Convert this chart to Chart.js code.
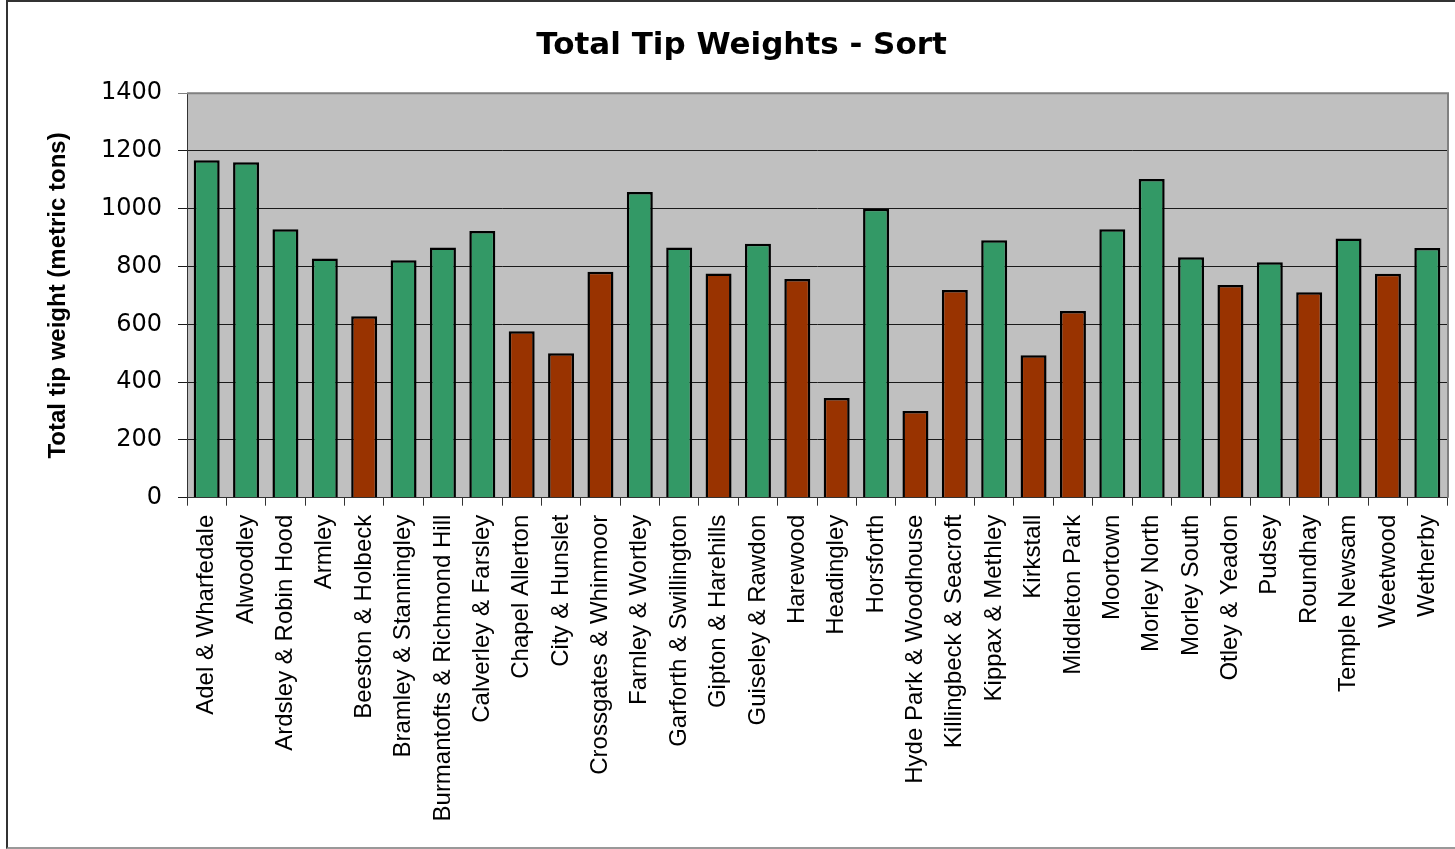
<!DOCTYPE html>
<html>
<head>
<meta charset="utf-8">
<script src="https://cdn.jsdelivr.net/npm/chart.js@4.4.1/dist/chart.umd.min.js"></script>
<style>
  html, body { margin: 0; padding: 0; background: #fff; overflow: hidden; width: 1455px; height: 849px; }
  #frame { position: absolute; left: 6px; top: 0; width: 1490px; height: 849px; box-sizing: border-box;
           border: 2px solid #333; border-bottom-color: #999; }
  #wrap { position: absolute; left: 8px; top: 2px; width: 1460px; height: 844px; }
</style>
</head>
<body>
<div id="frame"></div>
<div id="wrap"><canvas id="tipChart"></canvas></div>
<script>
  const wards = [
    'Adel & Wharfedale', 'Alwoodley', 'Ardsley & Robin Hood', 'Armley',
    'Beeston & Holbeck', 'Bramley & Stanningley', 'Burmantofts & Richmond Hill',
    'Calverley & Farsley', 'Chapel Allerton', 'City & Hunslet', 'Crossgates & Whinmoor',
    'Farnley & Wortley', 'Garforth & Swillington', 'Gipton & Harehills',
    'Guiseley & Rawdon', 'Harewood', 'Headingley', 'Horsforth', 'Hyde Park & Woodhouse',
    'Killingbeck & Seacroft', 'Kippax & Methley', 'Kirkstall', 'Middleton Park',
    'Moortown', 'Morley North', 'Morley South', 'Otley & Yeadon', 'Pudsey',
    'Roundhay', 'Temple Newsam', 'Weetwood', 'Wetherby'
  ];
  const tipWeights = [
    1168, 1161, 929, 828,
    628, 822, 866,
    923, 576, 500, 782,
    1058, 866, 776,
    879, 757, 345, 1000, 300,
    719, 891, 493, 646,
    929, 1103, 832, 736, 815,
    711, 897, 775, 864
  ];
  const yTicks = [0, 200, 400, 600, 800, 1000, 1200, 1400];
  const threshold = 800;

  // grey plot background + grey top/right edge
  const plotBox = {
    id: 'plotBox',
    beforeDraw(chart) {
      const {ctx, chartArea: a} = chart;
      ctx.save();
      ctx.fillStyle = '#C0C0C0';
      ctx.fillRect(a.left, a.top, a.right - a.left, a.bottom - a.top);
      ctx.restore();
    },
    afterDatasetsDraw(chart) {
      const {ctx, chartArea: a} = chart;
      ctx.save();
      ctx.strokeStyle = '#808080';
      ctx.lineWidth = 2;
      ctx.beginPath();
      ctx.moveTo(a.left, a.top);
      ctx.lineTo(a.right + 1, a.top);
      ctx.lineTo(a.right + 1, a.bottom);
      ctx.stroke();
      ctx.restore();
    }
  };

  const ctx = document.getElementById('tipChart').getContext('2d');
  new Chart(ctx, {
    type: 'bar',
    data: {
      labels: wards,
      datasets: [{
        data: tipWeights,
        backgroundColor: c => (c.raw < threshold ? '#993300' : '#339966'),
        borderColor: '#000',
        borderWidth: 2.5,
        barPercentage: 0.66,
        categoryPercentage: 1.0
      }]
    },
    options: {
      responsive: true,
      maintainAspectRatio: false,
      animation: false,
      layout: { padding: { left: 28, right: 21, top: 0, bottom: 0 } },
      scales: {
        x: {
          afterFit: s => { s.height = 348.3; },
          grid: { drawOnChartArea: false, tickLength: 8, color: '#333', lineWidth: 1 },
          border: { color: '#333', width: 1 },
          ticks: {
            autoSkip: false, minRotation: 90, maxRotation: 90, padding: 9,
            color: '#000',
            font: { family: '"Liberation Sans", Arial, sans-serif', size: 24 }
          }
        },
        y: {
          min: 0,
          max: 1400,
          afterFit: s => { s.width = 151; },
          afterBuildTicks: s => { s.ticks = yTicks.map(v => ({ value: v })); },
          grid: {
            color: c => (c.tick && c.tick.value === 1400 ? '#808080' : '#1a1a1a'),
            lineWidth: 1, tickLength: 9
          },
          border: { color: '#333', width: 1 },
          ticks: {
            padding: 16, color: '#000',
            callback: v => String(v),
            font: { family: '"DejaVu Sans", sans-serif', size: 24 }
          },
          title: {
            display: true,
            text: 'Total tip weight (metric tons)',
            color: '#000',
            padding: { top: 8, bottom: 0 },
            font: { family: '"Liberation Sans", Arial, sans-serif', size: 24, weight: 'bold' }
          }
        }
      },
      plugins: {
        legend: { display: false },
        tooltip: { enabled: false },
        title: {
          display: true,
          text: 'Total Tip Weights - Sort',
          color: '#000',
          padding: { top: 25, bottom: 29 },
          font: { family: '"DejaVu Sans", sans-serif', size: 31, weight: 'bold' }
        }
      }
    },
    plugins: [plotBox]
  });
</script>
</body>
</html>
